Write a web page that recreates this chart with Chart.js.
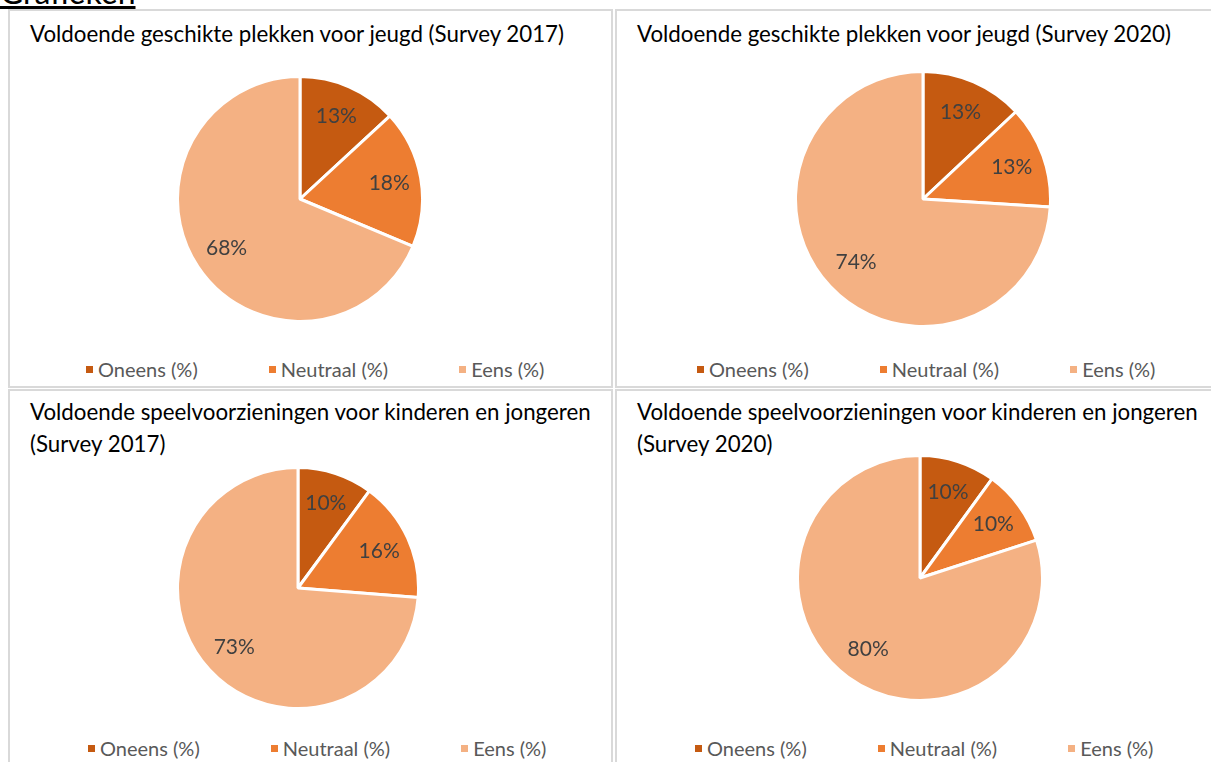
<!DOCTYPE html>
<html>
<head>
<meta charset="utf-8">
<script src="https://cdn.jsdelivr.net/npm/chart.js"></script>
<style>
body { margin:0; width:1211px; height:762px; overflow:hidden; background:#fff; font-family: Lato, sans-serif; position:relative; }
.kop { position:absolute; left:0; top:-24px; font-size:32px; line-height:32px; text-decoration:underline; color:#000; }
.paneel { position:absolute; width:605px; height:379px; box-sizing:border-box; border:2px solid #d9d9d9; overflow:hidden; }
.titel { position:absolute; left:20px; font-size:22.3px; line-height:32px; color:#000; white-space:nowrap; }
.taart { position:absolute; }
.legenda { position:absolute; display:flex; gap:71px; font-size:20px; line-height:20px; color:#595959; white-space:nowrap; }
.legenda .item { display:flex; align-items:center; }
.legenda .vak { width:7px; height:7px; margin-right:5px; }
</style>
</head>
<body>
<div class="kop">Grafieken</div>

<script>
// data uit de grafieken
const categories = ['Oneens (%)', 'Neutraal (%)', 'Eens (%)'];
const plekken2017 = [13, 18, 68];
const plekken2020 = [13, 13, 74];
const speel2017 = [10, 16, 73];
const speel2020 = [10, 10, 80];
const titles = [
    ['Voldoende geschikte plekken voor jeugd (Survey 2017)'],
    ['Voldoende geschikte plekken voor jeugd (Survey 2020)'],
    ['Voldoende speelvoorzieningen voor kinderen en jongeren', '(Survey 2017)'],
    ['Voldoende speelvoorzieningen voor kinderen en jongeren', '(Survey 2020)']
];
const series = [plekken2017, plekken2020, speel2017, speel2020];

const kleuren = ['#c55a11', '#ed7d31', '#f4b183'];

// plaats van de panelen op de pagina (left, top), taart (cx, cy, r), legenda start
const panelen = [
    { left: 8,   top: 9,   titelTop: 6.5, cx: 290,   cy: 188, r: 121, legLeft: 76, legTop: 348 },
    { left: 615, top: 9,   titelTop: 6.5, cx: 305.5, cy: 188, r: 126, legLeft: 80, legTop: 348 },
    { left: 8,   top: 389, titelTop: 4.5, cx: 287.5, cy: 197, r: 119, legLeft: 78, legTop: 347 },
    { left: 615, top: 389, titelTop: 4.5, cx: 302.5, cy: 187, r: 121, legLeft: 78, legTop: 347 }
];

// percentages in de taartpunten
const percentLabels = {
    id: 'percentLabels',
    afterDatasetsDraw(chart) {
        const ctx = chart.ctx;
        const meta = chart.getDatasetMeta(0);
        const values = chart.data.datasets[0].data;
        ctx.save();
        ctx.font = '21px Lato';
        ctx.fillStyle = '#404040';
        ctx.textAlign = 'center';
        ctx.textBaseline = 'middle';
        meta.data.forEach((arc, i) => {
            const p = arc.getProps(['x', 'y', 'startAngle', 'endAngle', 'outerRadius'], true);
            const a = (p.startAngle + p.endAngle) / 2;
            const f = (p.endAngle - p.startAngle) > Math.PI ? 0.72 : 0.74;
            ctx.fillText(values[i] + '%', p.x + Math.cos(a) * p.outerRadius * f, p.y + Math.sin(a) * p.outerRadius * f);
        });
        ctx.restore();
    }
};

panelen.forEach((pn, k) => {
    const div = document.createElement('div');
    div.className = 'paneel';
    div.style.left = pn.left + 'px';
    div.style.top = pn.top + 'px';
    document.body.appendChild(div);

    const titel = document.createElement('div');
    titel.className = 'titel';
    titel.style.top = pn.titelTop + 'px';
    titel.innerHTML = titles[k].join('<br>');
    div.appendChild(titel);

    const size = 2 * pn.r + 6;
    const taart = document.createElement('div');
    taart.className = 'taart';
    taart.style.left = (pn.cx - size / 2) + 'px';
    taart.style.top = (pn.cy - size / 2) + 'px';
    const canvas = document.createElement('canvas');
    canvas.width = size;
    canvas.height = size;
    taart.appendChild(canvas);
    div.appendChild(taart);

    const chart = new Chart(canvas, {
        type: 'pie',
        data: {
            labels: categories,
            datasets: [{
                data: series[k],
                backgroundColor: kleuren,
                borderColor: '#ffffff',
                borderWidth: 3
            }]
        },
        options: {
            responsive: false,
            animation: false,
            layout: { padding: 0 },
            plugins: {
                legend: { display: false },
                tooltip: { enabled: false }
            }
        },
        plugins: [percentLabels]
    });

    // html legenda uit de labels van de chart
    const leg = document.createElement('div');
    leg.className = 'legenda';
    leg.style.left = pn.legLeft + 'px';
    leg.style.top = pn.legTop + 'px';
    const items = chart.options.plugins.legend.labels.generateLabels(chart);
    items.forEach(it => {
        const item = document.createElement('div');
        item.className = 'item';
        const vak = document.createElement('span');
        vak.className = 'vak';
        vak.style.background = it.fillStyle;
        const tekst = document.createElement('span');
        tekst.textContent = it.text;
        item.appendChild(vak);
        item.appendChild(tekst);
        leg.appendChild(item);
    });
    div.appendChild(leg);
});
</script>
</body>
</html>
